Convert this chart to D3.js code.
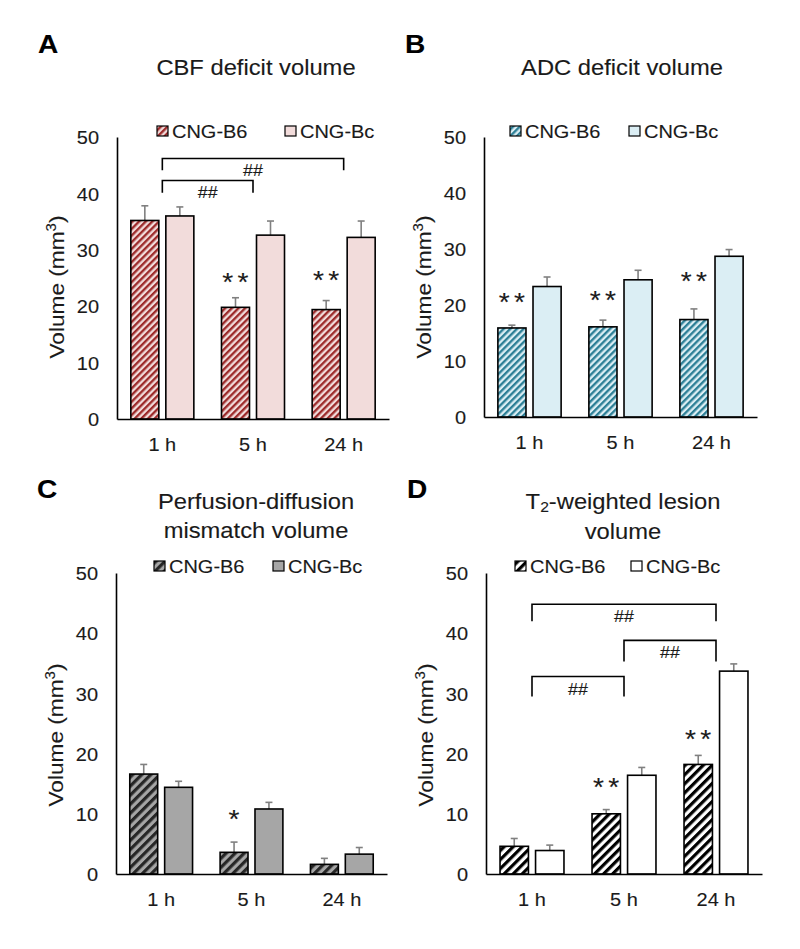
<!DOCTYPE html>
<html><head><meta charset="utf-8">
<script src="https://cdn.jsdelivr.net/npm/d3@7"></script>
<style>body{margin:0;background:#fff}svg{display:block}text{stroke:#1a1a1a;stroke-width:0.12px}</style>
</head><body>
<script>
// ---------- DATA ----------
const categories = ["1 h", "5 h", "24 h"];
const seriesNames = ["CNG-B6", "CNG-Bc"];
const yTicks = [0, 10, 20, 30, 40, 50];

// A: CBF deficit volume
const cbfB6 = [35.2, 19.8, 19.4];
const cbfB6Err = [2.6, 1.7, 1.6];
const cbfBc = [36.0, 32.6, 32.2];
const cbfBcErr = [1.6, 2.5, 2.9];
const cbfStars = [{cat: "5 h", text: "**", y: 25.4}, {cat: "24 h", text: "**", y: 25.7}];
const cbfBrackets = [{from: "1 h", to: "24 h", top: 46.2, bottom: 44.1, text: "##"},
                     {from: "1 h", to: "5 h", top: 42.3, bottom: 40.1, text: "##"}];

// B: ADC deficit volume
const adcB6 = [15.9, 16.1, 17.4];
const adcB6Err = [0.5, 1.2, 1.9];
const adcBc = [23.3, 24.5, 28.7];
const adcBcErr = [1.7, 1.7, 1.2];
const adcStars = [{cat: "1 h", text: "**", y: 21.6}, {cat: "5 h", text: "**", y: 21.9}, {cat: "24 h", text: "**", y: 25.3}];
const adcBrackets = [];

// C: Perfusion-diffusion mismatch volume
const pdmB6 = [16.6, 3.6, 1.6];
const pdmB6Err = [1.6, 1.7, 1.0];
const pdmBc = [14.4, 10.8, 3.3];
const pdmBcErr = [1.0, 1.1, 1.1];
const pdmStars = [{cat: "5 h", text: "*", y: 10.1}];
const pdmBrackets = [];

// D: T2-weighted lesion volume
const t2B6 = [4.6, 10.0, 18.2];
const t2B6Err = [1.3, 0.7, 1.5];
const t2Bc = [3.9, 16.4, 33.7];
const t2BcErr = [0.9, 1.3, 1.2];
const t2Stars = [{cat: "5 h", text: "**", y: 15.5}, {cat: "24 h", text: "**", y: 23.4}];
const t2Brackets = [{from: "1 h", to: "24 h", top: 44.8, bottom: 42.0, text: "##"},
                    {from: "5 h", to: "24 h", top: 38.8, bottom: 35.3, text: "##"},
                    {from: "1 h", to: "5 h", top: 32.8, bottom: 29.5, text: "##"}];

// ---------- LAYOUT / STYLE ----------
const W = 800, H = 949, SX = 1.08;
const FONT = "'Liberation Sans', Arial, sans-serif";
const panels = [
  {id: "A", letter: "A", b6: cbfB6, b6e: cbfB6Err, bc: cbfBc, bce: cbfBcErr, stars: cbfStars, brackets: cbfBrackets,
   x0: 117, x1: 389, y0: 137, y1: 419, title: [["CBF deficit volume"]], titleX: 256, titleY: [67],
   letterX: 38, letterY: 53, legX: [40, 168], legDY: -6, ytY: 287,
   stripe: "#9c2a2a", bg: "#f2dcdb", bcFill: "#f2dcdb", period: 4.7},
  {id: "B", letter: "B", b6: adcB6, b6e: adcB6Err, bc: adcBc, bce: adcBcErr, stars: adcStars, brackets: adcBrackets,
   x0: 484, x1: 757, y0: 137, y1: 417, title: [["ADC deficit volume"]], titleX: 622, titleY: [67],
   letterX: 405, letterY: 53, legX: [26, 145], legDY: -6, ytY: 287,
   stripe: "#2c7f96", bg: "#dbeef4", bcFill: "#dbeef4", period: 4.7},
  {id: "C", letter: "C", b6: pdmB6, b6e: pdmB6Err, bc: pdmBc, bce: pdmBcErr, stars: pdmStars, brackets: pdmBrackets,
   x0: 116, x1: 387, y0: 573, y1: 874, title: [["Perfusion-diffusion"], ["mismatch volume"]], titleX: 256, titleY: [501, 530],
   letterX: 37, letterY: 498, legX: [38, 157], legDY: -7, ytY: 735,
   stripe: "#262626", bg: "#a6a6a6", bcFill: "#a6a6a6", period: 6.4},
  {id: "D", letter: "D", b6: t2B6, b6e: t2B6Err, bc: t2Bc, bce: t2BcErr, stars: t2Stars, brackets: t2Brackets,
   x0: 486, x1: 762, y0: 573, y1: 874, title: [["T", "2", "-weighted lesion"], ["volume"]], titleX: 623, titleY: [501, 531],
   letterX: 407, letterY: 498, legX: [29, 145], legDY: -7, ytY: 735,
   stripe: "#000000", bg: "#ffffff", bcFill: "#ffffff", period: 6.4}
];

const svg = d3.select("body").append("svg").attr("width", W).attr("height", H)
  .style("font-family", FONT);
const defs = svg.append("defs");

panels.forEach(p => {
  const pat = defs.append("pattern").attr("id", "hatch" + p.id)
    .attr("patternUnits", "userSpaceOnUse").attr("width", p.period).attr("height", p.period)
    .attr("patternTransform", "rotate(45)");
  pat.append("rect").attr("width", p.period).attr("height", p.period).attr("fill", p.bg);
  pat.append("rect").attr("width", p.period * 0.5).attr("height", p.period).attr("fill", p.stripe);
});

function sText(g, x, y, str, size, opts = {}) {
  const t = g.append("text")
    .attr("transform", `translate(${x},${y}) scale(${SX},1)`)
    .attr("font-size", size).attr("fill", opts.fill || "#1a1a1a")
    .attr("text-anchor", opts.anchor || "middle");
  if (opts.weight) t.attr("font-weight", opts.weight);
  if (opts.ls) t.attr("letter-spacing", opts.ls);
  t.text(str);
  return t;
}

panels.forEach(p => {
  const g = svg.append("g");
  const x = d3.scaleBand().domain(categories).range([p.x0, p.x1]).paddingInner(0.305).paddingOuter(0.1525);
  const xs = d3.scaleBand().domain(seriesNames).range([0, x.bandwidth()]).paddingInner(0.2);
  const y = d3.scaleLinear().domain([0, 50]).range([p.y1, p.y0]);

  // panel letter
  sText(g, p.letterX, p.letterY, p.letter, 26, {anchor: "start", weight: "bold", fill: "#000"}).style("stroke", "#000");

  // title
  p.title.forEach((line, i) => {
    const t = g.append("text")
      .attr("transform", `translate(${p.titleX},${p.titleY[i] + 7.8}) scale(${SX},1)`)
      .attr("font-size", 22).attr("fill", "#1a1a1a").attr("text-anchor", "middle");
    if (line.length === 1) t.text(line[0]);
    else {
      t.append("tspan").text(line[0]);
      t.append("tspan").attr("font-size", 14.5).attr("baseline-shift", "-22%").text(line[1]);
      t.append("tspan").text(line[2]);
    }
  });

  // legend
  const legY = p.y0 + p.legDY;
  seriesNames.forEach((s, i) => {
    const lx = p.x0 + p.legX[i];
    g.append("rect").attr("x", lx).attr("y", legY - 5).attr("width", 11).attr("height", 10)
      .attr("fill", i === 0 ? `url(#hatch${p.id})` : p.bcFill)
      .attr("stroke", "#000").attr("stroke-width", 1.2);
    sText(g, lx + 15, legY + 6.6, s, 18.5, {anchor: "start"});
  });

  // bars
  const series = [{name: "CNG-B6", v: p.b6, e: p.b6e, fill: `url(#hatch${p.id})`},
                  {name: "CNG-Bc", v: p.bc, e: p.bce, fill: p.bcFill}];
  series.forEach(s => {
    const bg = g.append("g");
    const d = categories.map((c, i) => ({c, v: s.v[i], e: s.e[i]}));
    bg.selectAll("line.err").data(d).join("line")
      .attr("x1", q => x(q.c) + xs(s.name) + xs.bandwidth() / 2)
      .attr("x2", q => x(q.c) + xs(s.name) + xs.bandwidth() / 2)
      .attr("y1", q => y(q.v)).attr("y2", q => y(q.v + q.e))
      .attr("stroke", "#808080").attr("stroke-width", 1.6);
    bg.selectAll("line.cap").data(d).join("line")
      .attr("x1", q => x(q.c) + xs(s.name) + xs.bandwidth() / 2 - 3.5)
      .attr("x2", q => x(q.c) + xs(s.name) + xs.bandwidth() / 2 + 3.5)
      .attr("y1", q => y(q.v + q.e)).attr("y2", q => y(q.v + q.e))
      .attr("stroke", "#808080").attr("stroke-width", 1.6);
    bg.selectAll("rect").data(d).join("rect")
      .attr("x", q => x(q.c) + xs(s.name)).attr("width", xs.bandwidth())
      .attr("y", q => y(q.v)).attr("height", q => y(0) - y(q.v))
      .attr("fill", s.fill).attr("stroke", "#000").attr("stroke-width", 1.6);
  });

  // axes
  const ya = g.append("g").attr("transform", `translate(${p.x0},0)`)
    .call(d3.axisLeft(y).tickValues(yTicks).tickSize(0).tickPadding(0));
  ya.select(".domain").attr("stroke", "#000").attr("stroke-width", 1.6);
  ya.selectAll("text").attr("x", null).attr("dy", "0.36em")
    .attr("transform", `translate(-18,0) scale(${SX},1)`)
    .attr("font-size", 18.5).attr("font-family", FONT).attr("fill", "#1a1a1a");

  const xa = g.append("g").attr("transform", `translate(0,${p.y1})`)
    .call(d3.axisBottom(x).tickSize(0).tickPadding(0));
  xa.select(".domain").attr("stroke", "#000").attr("stroke-width", 1.6);
  xa.selectAll("text").attr("y", null).attr("dy", "0.71em")
    .attr("transform", `translate(0,19) scale(${SX},1)`)
    .attr("font-size", 18.5).attr("font-family", FONT).attr("fill", "#1a1a1a");

  // y title
  const yt = g.append("text")
    .attr("transform", `translate(${p.x0 - 53},${p.ytY}) rotate(-90) scale(${SX},1)`)
    .attr("text-anchor", "middle").attr("font-size", 21).attr("fill", "#1a1a1a");
  yt.append("tspan").text("Volume (mm");
  yt.append("tspan").attr("font-size", 14).attr("baseline-shift", "super").text("3");
  yt.append("tspan").text(")");

  // stars
  p.stars.forEach(st => {
    const cx = x(st.cat) + xs("CNG-B6") + xs.bandwidth() / 2;
    sText(g, cx + (st.text.length > 1 ? 2 : 0), y(st.y) + 15, st.text, 26,
      {ls: st.text.length > 1 ? 4 : 0, fill: "#1a1a1a"});
  });

  // brackets
  p.brackets.forEach(b => {
    const xa1 = x(b.from) + x.bandwidth() / 2, xa2 = x(b.to) + x.bandwidth() / 2;
    const path = d3.path();
    path.moveTo(xa1, y(b.bottom)); path.lineTo(xa1, y(b.top));
    path.lineTo(xa2, y(b.top)); path.lineTo(xa2, y(b.bottom));
    g.append("path").attr("d", path.toString()).attr("fill", "none")
      .attr("stroke", "#000").attr("stroke-width", 1.6);
    sText(g, (xa1 + xa2) / 2, y(b.top) + 18, b.text, 16.5, {fill: "#1a1a1a"});
  });
});
</script>
</body></html>
